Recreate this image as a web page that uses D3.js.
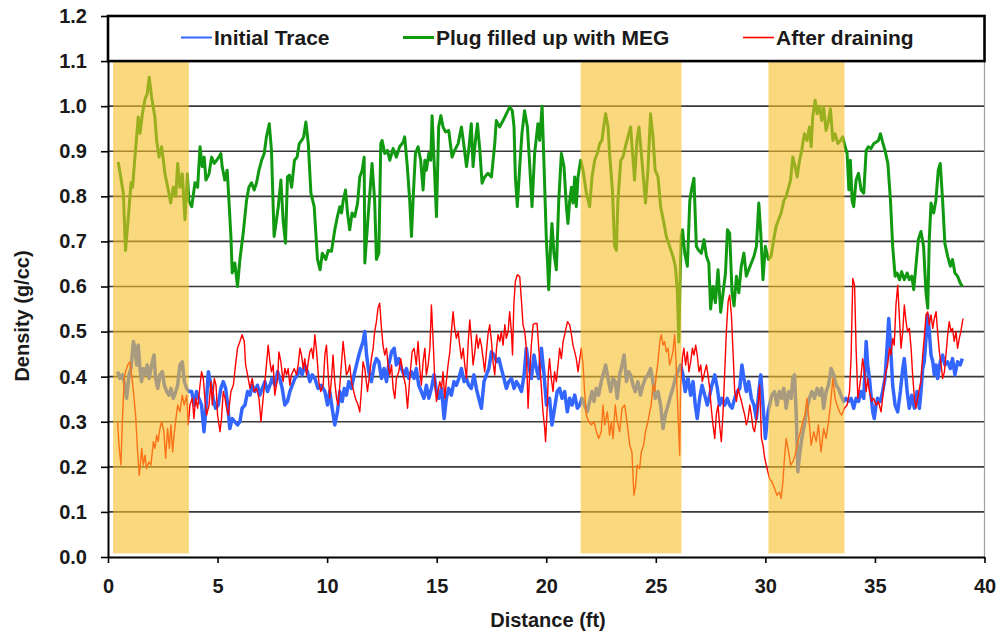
<!DOCTYPE html>
<html>
<head>
<meta charset="utf-8">
<script src="https://cdnjs.cloudflare.com/ajax/libs/d3/7.8.5/d3.min.js"></script>
<style>
  body { margin: 0; background: #fff; }
  text { font-family: Arial, "Liberation Sans", sans-serif; font-weight: bold; fill: #1a1a1a; }
</style>
</head>
<body>
<svg id="chart" width="1000" height="635"></svg>
<script>
// distance (ft), density (g/cc)
const initialTrace = [[0.44,0.411],[0.55,0.396],[0.65,0.404],[0.74,0.389],[0.85,0.352],[0.96,0.404],[1.05,0.418],[1.16,0.478],[1.23,0.463],[1.31,0.426],[1.38,0.47],[1.46,0.418],[1.53,0.389],[1.61,0.418],[1.69,0.404],[1.79,0.426],[1.88,0.396],[1.99,0.426],[2.10,0.448],[2.17,0.396],[2.27,0.374],[2.37,0.404],[2.48,0.411],[2.57,0.381],[2.68,0.367],[2.78,0.359],[2.87,0.374],[2.98,0.352],[3.09,0.367],[3.18,0.381],[3.28,0.426],[3.39,0.433],[3.48,0.389],[3.59,0.374],[3.69,0.367],[3.82,0.367],[3.94,0.337],[4.04,0.367],[4.15,0.352],[4.27,0.337],[4.38,0.278],[4.47,0.33],[4.58,0.411],[4.70,0.381],[4.80,0.352],[4.91,0.33],[5.03,0.337],[5.15,0.374],[5.26,0.389],[5.37,0.374],[5.46,0.337],[5.56,0.285],[5.67,0.307],[5.79,0.30],[5.91,0.293],[6.02,0.30],[6.12,0.33],[6.25,0.337],[6.37,0.367],[6.48,0.359],[6.58,0.381],[6.70,0.367],[6.82,0.381],[6.93,0.359],[7.04,0.374],[7.16,0.389],[7.28,0.367],[7.39,0.381],[7.49,0.396],[7.62,0.381],[7.74,0.411],[7.84,0.396],[7.95,0.374],[8.07,0.337],[8.19,0.345],[8.30,0.367],[8.41,0.381],[8.53,0.396],[8.65,0.404],[8.76,0.418],[8.86,0.404],[8.98,0.426],[9.10,0.411],[9.21,0.389],[9.32,0.404],[9.44,0.396],[9.59,0.374],[9.74,0.381],[9.90,0.367],[10.02,0.337],[10.12,0.367],[10.23,0.33],[10.35,0.293],[10.47,0.322],[10.58,0.367],[10.69,0.345],[10.78,0.374],[10.88,0.359],[10.99,0.389],[11.11,0.374],[11.23,0.404],[11.34,0.426],[11.45,0.448],[11.54,0.463],[11.64,0.478],[11.72,0.50],[11.80,0.448],[11.90,0.411],[12.02,0.389],[12.15,0.426],[12.25,0.44],[12.36,0.433],[12.48,0.396],[12.60,0.418],[12.71,0.389],[12.81,0.426],[12.94,0.455],[13.06,0.463],[13.16,0.426],[13.27,0.44],[13.39,0.418],[13.51,0.404],[13.62,0.418],[13.73,0.396],[13.85,0.411],[13.97,0.396],[14.07,0.418],[14.18,0.381],[14.30,0.367],[14.42,0.352],[14.53,0.381],[14.64,0.352],[14.76,0.374],[14.88,0.404],[14.99,0.367],[15.10,0.352],[15.22,0.374],[15.34,0.307],[15.44,0.352],[15.55,0.374],[15.67,0.359],[15.79,0.389],[15.90,0.381],[16.01,0.396],[16.13,0.418],[16.25,0.389],[16.36,0.396],[16.46,0.381],[16.58,0.374],[16.70,0.404],[16.81,0.374],[16.92,0.352],[17.04,0.33],[17.16,0.389],[17.27,0.404],[17.38,0.418],[17.50,0.455],[17.62,0.448],[17.73,0.433],[17.84,0.44],[17.95,0.418],[18.07,0.396],[18.18,0.374],[18.29,0.389],[18.41,0.396],[18.53,0.374],[18.64,0.389],[18.74,0.381],[18.87,0.367],[18.99,0.404],[19.09,0.463],[19.20,0.426],[19.32,0.396],[19.44,0.448],[19.55,0.418],[19.66,0.396],[19.78,0.463],[19.90,0.404],[20.01,0.337],[20.15,0.352],[20.26,0.293],[20.38,0.33],[20.50,0.367],[20.61,0.374],[20.72,0.352],[20.84,0.367],[20.96,0.322],[21.07,0.352],[21.18,0.337],[21.30,0.359],[21.42,0.33],[21.53,0.337],[21.63,0.352],[21.75,0.337],[21.87,0.322],[21.98,0.345],[22.09,0.367],[22.18,0.345],[22.29,0.374],[22.39,0.359],[22.51,0.389],[22.63,0.411],[22.71,0.426],[22.82,0.396],[22.94,0.367],[23.05,0.396],[23.15,0.389],[23.24,0.352],[23.35,0.404],[23.46,0.426],[23.55,0.448],[23.66,0.389],[23.76,0.411],[23.85,0.404],[23.96,0.381],[24.06,0.367],[24.18,0.389],[24.30,0.359],[24.41,0.381],[24.52,0.396],[24.64,0.404],[24.76,0.418],[24.87,0.389],[24.97,0.352],[25.10,0.367],[25.22,0.337],[25.33,0.285],[25.43,0.315],[25.56,0.337],[25.68,0.359],[25.78,0.374],[25.89,0.396],[26.01,0.411],[26.13,0.426],[26.24,0.404],[26.34,0.367],[26.47,0.396],[26.59,0.359],[26.70,0.389],[26.80,0.337],[26.89,0.307],[27.00,0.352],[27.11,0.381],[27.23,0.359],[27.35,0.337],[27.46,0.359],[27.56,0.381],[27.69,0.404],[27.81,0.374],[27.91,0.337],[28.02,0.352],[28.14,0.337],[28.26,0.352],[28.37,0.337],[28.48,0.33],[28.60,0.352],[28.72,0.367],[28.83,0.374],[28.93,0.426],[29.02,0.396],[29.13,0.367],[29.24,0.389],[29.36,0.352],[29.48,0.337],[29.59,0.307],[29.70,0.367],[29.79,0.404],[29.89,0.337],[30.00,0.263],[30.12,0.322],[30.19,0.337],[30.30,0.359],[30.42,0.367],[30.53,0.337],[30.64,0.367],[30.75,0.352],[30.84,0.374],[30.95,0.33],[31.06,0.367],[31.18,0.352],[31.25,0.396],[31.33,0.404],[31.41,0.315],[31.48,0.189],[31.56,0.226],[31.66,0.263],[31.78,0.293],[31.90,0.33],[32.01,0.352],[32.12,0.367],[32.24,0.352],[32.36,0.374],[32.47,0.359],[32.57,0.374],[32.66,0.33],[32.77,0.367],[32.88,0.381],[33.00,0.418],[33.12,0.404],[33.23,0.381],[33.33,0.374],[33.45,0.359],[33.57,0.345],[33.68,0.352],[33.79,0.345],[33.91,0.352],[34.03,0.33],[34.14,0.352],[34.25,0.345],[34.37,0.367],[34.49,0.352],[34.60,0.478],[34.67,0.426],[34.75,0.396],[34.82,0.359],[34.90,0.322],[34.97,0.307],[35.05,0.337],[35.12,0.352],[35.25,0.345],[35.35,0.367],[35.46,0.396],[35.55,0.463],[35.63,0.529],[35.71,0.47],[35.81,0.381],[35.92,0.337],[36.04,0.322],[36.16,0.367],[36.27,0.418],[36.34,0.44],[36.47,0.367],[36.57,0.33],[36.68,0.359],[36.80,0.33],[36.92,0.367],[37.03,0.33],[37.10,0.367],[37.18,0.418],[37.25,0.433],[37.33,0.485],[37.41,0.537],[37.48,0.50],[37.56,0.448],[37.64,0.433],[37.71,0.404],[37.79,0.426],[37.86,0.396],[37.98,0.433],[38.09,0.448],[38.19,0.426],[38.32,0.433],[38.44,0.418],[38.54,0.44],[38.65,0.404],[38.77,0.433],[38.89,0.426],[38.99,0.44]];

const plugMEG = [[0.47,0.876],[0.70,0.807],[0.80,0.68],[0.93,0.755],[1.05,0.83],[1.12,0.82],[1.23,0.887],[1.38,0.976],[1.46,0.94],[1.57,0.983],[1.69,1.016],[1.79,1.027],[1.88,1.064],[1.99,1.02],[2.14,0.976],[2.22,0.924],[2.33,0.887],[2.45,0.91],[2.60,0.85],[2.75,0.814],[2.86,0.785],[2.98,0.82],[3.09,0.80],[3.18,0.873],[3.28,0.82],[3.39,0.85],[3.51,0.748],[3.62,0.85],[3.69,0.79],[3.82,0.777],[3.97,0.83],[4.09,0.82],[4.20,0.91],[4.30,0.866],[4.39,0.887],[4.47,0.836],[4.61,0.85],[4.73,0.887],[4.85,0.873],[4.96,0.88],[5.06,0.887],[5.15,0.895],[5.21,0.866],[5.33,0.836],[5.44,0.858],[5.52,0.79],[5.61,0.71],[5.67,0.63],[5.79,0.652],[5.91,0.60],[6.02,0.66],[6.17,0.718],[6.32,0.79],[6.43,0.82],[6.55,0.83],[6.67,0.814],[6.78,0.83],[6.89,0.858],[7.01,0.88],[7.13,0.895],[7.23,0.932],[7.36,0.961],[7.46,0.902],[7.58,0.711],[7.69,0.748],[7.77,0.777],[7.89,0.836],[7.99,0.748],[8.10,0.696],[8.19,0.843],[8.28,0.847],[8.38,0.82],[8.51,0.88],[8.63,0.887],[8.73,0.917],[8.84,0.924],[8.93,0.932],[9.03,0.965],[9.14,0.917],[9.26,0.807],[9.41,0.777],[9.56,0.66],[9.68,0.637],[9.78,0.674],[9.94,0.66],[10.05,0.68],[10.2,0.678],[10.35,0.726],[10.47,0.755],[10.58,0.777],[10.66,0.763],[10.73,0.79],[10.84,0.814],[10.93,0.763],[11.03,0.726],[11.14,0.763],[11.26,0.755],[11.39,0.785],[11.49,0.843],[11.60,0.858],[11.69,0.887],[11.72,0.652],[11.87,0.755],[12.05,0.873],[12.17,0.79],[12.25,0.66],[12.36,0.674],[12.45,0.917],[12.51,0.924],[12.63,0.895],[12.75,0.902],[12.86,0.88],[13.01,0.906],[13.16,0.887],[13.31,0.91],[13.47,0.92],[13.54,0.932],[13.66,0.866],[13.77,0.79],[13.85,0.711],[13.92,0.79],[14.03,0.895],[14.15,0.91],[14.27,0.88],[14.38,0.814],[14.46,0.88],[14.53,0.858],[14.64,0.895],[14.73,0.88],[14.79,0.979],[14.88,0.88],[14.99,0.755],[15.09,0.954],[15.19,0.979],[15.29,0.954],[15.40,0.943],[15.55,0.946],[15.70,0.887],[15.82,0.902],[15.98,0.917],[16.13,0.954],[16.25,0.91],[16.36,0.866],[16.46,0.902],[16.58,0.961],[16.66,0.866],[16.77,0.924],[16.86,0.961],[16.97,0.902],[17.07,0.829],[17.19,0.843],[17.34,0.851],[17.50,0.843],[17.65,0.917],[17.72,0.968],[17.87,0.954],[18.03,0.968],[18.18,0.983],[18.33,0.998],[18.45,0.99],[18.53,0.954],[18.59,0.843],[18.68,0.777],[18.79,0.866],[18.89,0.939],[19.01,0.99],[19.14,0.954],[19.24,0.873],[19.35,0.777],[19.47,0.895],[19.62,0.961],[19.70,0.924],[19.81,1.0],[19.90,0.866],[20.00,0.711],[20.08,0.63],[20.11,0.593],[20.20,0.689],[20.26,0.74],[20.35,0.674],[20.46,0.637],[20.57,0.79],[20.69,0.895],[20.81,0.866],[20.92,0.777],[20.99,0.74],[21.07,0.79],[21.15,0.82],[21.22,0.785],[21.30,0.843],[21.37,0.777],[21.45,0.843],[21.57,0.88],[21.68,0.858],[21.83,0.807],[21.98,0.777],[22.09,0.843],[22.21,0.88],[22.33,0.895],[22.44,0.917],[22.54,0.924],[22.64,0.961],[22.71,0.983],[22.82,0.954],[22.89,0.895],[23.02,0.814],[23.12,0.689],[23.20,0.68],[23.27,0.79],[23.40,0.88],[23.50,0.887],[23.61,0.91],[23.73,0.932],[23.85,0.954],[23.93,0.902],[24.03,0.836],[24.14,0.924],[24.23,0.954],[24.34,0.895],[24.44,0.836],[24.53,0.785],[24.64,0.858],[24.76,0.983],[24.87,0.932],[24.97,0.858],[25.10,0.843],[25.22,0.777],[25.34,0.748],[25.48,0.711],[25.63,0.689],[25.78,0.667],[25.89,0.645],[25.98,0.593],[26.05,0.477],[26.10,0.60],[26.16,0.711],[26.22,0.726],[26.32,0.674],[26.44,0.645],[26.55,0.79],[26.65,0.82],[26.74,0.84],[26.85,0.689],[26.96,0.68],[27.08,0.674],[27.20,0.704],[27.31,0.667],[27.42,0.652],[27.50,0.55],[27.61,0.60],[27.72,0.564],[27.84,0.637],[27.96,0.543],[28.07,0.586],[28.18,0.63],[28.27,0.726],[28.37,0.718],[28.48,0.586],[28.57,0.557],[28.68,0.623],[28.79,0.586],[28.90,0.645],[29.02,0.674],[29.13,0.623],[29.24,0.637],[29.36,0.652],[29.48,0.667],[29.59,0.689],[29.70,0.785],[29.79,0.718],[29.89,0.615],[30.00,0.689],[30.04,0.68],[30.14,0.66],[30.26,0.667],[30.38,0.704],[30.49,0.733],[30.60,0.748],[30.72,0.763],[30.84,0.79],[30.95,0.80],[31.06,0.82],[31.15,0.836],[31.25,0.887],[31.36,0.866],[31.45,0.843],[31.56,0.88],[31.66,0.902],[31.78,0.939],[31.90,0.924],[32.01,0.954],[32.09,0.91],[32.16,0.976],[32.27,1.013],[32.36,0.983],[32.47,1.0],[32.57,0.968],[32.66,0.998],[32.77,0.946],[32.88,0.968],[32.97,0.994],[33.08,0.924],[33.18,0.939],[33.31,0.917],[33.43,0.924],[33.53,0.932],[33.64,0.91],[33.73,0.895],[33.81,0.814],[33.88,0.88],[33.96,0.79],[34.03,0.777],[34.14,0.836],[34.25,0.851],[34.37,0.814],[34.49,0.807],[34.60,0.902],[34.70,0.91],[34.82,0.906],[34.95,0.917],[35.05,0.92],[35.16,0.924],[35.25,0.939],[35.35,0.92],[35.46,0.902],[35.59,0.873],[35.71,0.79],[35.81,0.689],[35.92,0.623],[36.01,0.63],[36.12,0.615],[36.22,0.633],[36.34,0.615],[36.47,0.63],[36.57,0.615],[36.68,0.623],[36.77,0.593],[36.87,0.645],[36.98,0.704],[37.10,0.722],[37.22,0.689],[37.33,0.586],[37.41,0.552],[37.48,0.704],[37.56,0.785],[37.68,0.763],[37.78,0.79],[37.89,0.858],[37.98,0.873],[38.09,0.79],[38.19,0.696],[38.32,0.667],[38.44,0.645],[38.54,0.66],[38.65,0.63],[38.77,0.623],[38.89,0.608],[38.99,0.60]];

const afterDraining = [[0.44,0.30],[0.50,0.248],[0.59,0.204],[0.65,0.293],[0.74,0.396],[0.80,0.411],[0.90,0.426],[1.00,0.433],[1.08,0.404],[1.16,0.367],[1.26,0.315],[1.35,0.233],[1.43,0.181],[1.54,0.241],[1.61,0.204],[1.69,0.226],[1.76,0.196],[1.87,0.211],[1.96,0.204],[2.07,0.256],[2.14,0.241],[2.22,0.27],[2.29,0.256],[2.37,0.285],[2.45,0.30],[2.55,0.278],[2.63,0.219],[2.72,0.285],[2.80,0.241],[2.87,0.293],[2.95,0.233],[3.03,0.278],[3.10,0.307],[3.18,0.337],[3.28,0.322],[3.39,0.359],[3.48,0.337],[3.59,0.359],[3.66,0.293],[3.74,0.337],[3.85,0.352],[3.92,0.307],[4.00,0.352],[4.09,0.33],[4.20,0.381],[4.27,0.411],[4.35,0.396],[4.42,0.352],[4.50,0.315],[4.61,0.337],[4.70,0.389],[4.76,0.337],[4.85,0.396],[4.93,0.381],[5.00,0.315],[5.11,0.278],[5.18,0.307],[5.26,0.367],[5.34,0.352],[5.41,0.33],[5.49,0.315],[5.61,0.367],[5.72,0.381],[5.82,0.426],[5.91,0.463],[6.02,0.478],[6.12,0.493],[6.22,0.478],[6.28,0.426],[6.37,0.404],[6.48,0.374],[6.58,0.396],[6.67,0.367],[6.78,0.374],[6.89,0.352],[6.98,0.30],[7.08,0.352],[7.19,0.404],[7.31,0.47],[7.39,0.433],[7.46,0.411],[7.54,0.426],[7.61,0.359],[7.74,0.396],[7.80,0.455],[7.89,0.433],[7.99,0.389],[8.07,0.418],[8.15,0.404],[8.22,0.418],[8.30,0.381],[8.37,0.404],[8.50,0.418],[8.60,0.404],[8.68,0.426],[8.76,0.463],[8.83,0.448],[8.91,0.418],[8.98,0.44],[9.06,0.404],[9.14,0.433],[9.21,0.455],[9.29,0.463],[9.36,0.44],[9.44,0.493],[9.52,0.455],[9.62,0.389],[9.71,0.367],[9.82,0.381],[9.90,0.45],[9.97,0.47],[10.05,0.404],[10.12,0.352],[10.20,0.396],[10.27,0.448],[10.35,0.389],[10.43,0.352],[10.50,0.337],[10.58,0.381],[10.65,0.426],[10.73,0.478],[10.81,0.44],[10.88,0.404],[10.96,0.411],[11.03,0.426],[11.11,0.389],[11.18,0.374],[11.29,0.352],[11.41,0.337],[11.49,0.322],[11.56,0.367],[11.64,0.433],[11.72,0.418],[11.84,0.367],[11.94,0.404],[12.02,0.44],[12.10,0.463],[12.17,0.50],[12.25,0.522],[12.32,0.552],[12.40,0.563],[12.48,0.507],[12.55,0.47],[12.63,0.448],[12.71,0.463],[12.78,0.426],[12.86,0.404],[12.94,0.426],[13.01,0.374],[13.09,0.352],[13.16,0.396],[13.27,0.411],[13.36,0.44],[13.47,0.404],[13.58,0.381],[13.67,0.33],[13.77,0.396],[13.88,0.455],[13.97,0.463],[14.07,0.426],[14.15,0.478],[14.23,0.418],[14.30,0.381],[14.38,0.433],[14.46,0.463],[14.53,0.404],[14.61,0.426],[14.69,0.463],[14.76,0.559],[14.84,0.478],[14.91,0.396],[14.99,0.345],[15.06,0.367],[15.14,0.389],[15.22,0.374],[15.29,0.411],[15.37,0.352],[15.44,0.389],[15.52,0.426],[15.60,0.455],[15.67,0.50],[15.75,0.544],[15.82,0.507],[15.90,0.485],[15.98,0.50],[16.05,0.47],[16.13,0.44],[16.21,0.463],[16.28,0.426],[16.36,0.396],[16.44,0.478],[16.51,0.526],[16.59,0.478],[16.66,0.426],[16.74,0.455],[16.82,0.493],[16.89,0.463],[16.97,0.485],[17.04,0.47],[17.12,0.44],[17.19,0.411],[17.27,0.455],[17.34,0.493],[17.42,0.515],[17.50,0.478],[17.57,0.433],[17.65,0.404],[17.73,0.463],[17.80,0.493],[17.88,0.478],[17.95,0.50],[18.03,0.47],[18.11,0.515],[18.18,0.485],[18.26,0.50],[18.33,0.544],[18.41,0.50],[18.46,0.448],[18.52,0.559],[18.59,0.611],[18.68,0.626],[18.79,0.622],[18.87,0.567],[18.94,0.515],[19.02,0.50],[19.09,0.463],[19.17,0.33],[19.24,0.404],[19.32,0.47],[19.40,0.515],[19.47,0.518],[19.58,0.518],[19.66,0.463],[19.75,0.396],[19.85,0.322],[19.93,0.285],[19.97,0.256],[20.05,0.337],[20.10,0.411],[20.15,0.44],[20.23,0.396],[20.31,0.367],[20.38,0.411],[20.46,0.389],[20.54,0.426],[20.61,0.463],[20.69,0.44],[20.77,0.478],[20.87,0.50],[20.97,0.522],[21.07,0.515],[21.15,0.493],[21.22,0.47],[21.30,0.455],[21.37,0.44],[21.45,0.411],[21.53,0.44],[21.60,0.463],[21.68,0.426],[21.75,0.367],[21.83,0.315],[21.94,0.30],[22.06,0.293],[22.18,0.30],[22.29,0.278],[22.39,0.263],[22.51,0.278],[22.59,0.337],[22.67,0.293],[22.79,0.322],[22.89,0.27],[22.97,0.30],[23.05,0.263],[23.15,0.337],[23.24,0.30],[23.35,0.278],[23.46,0.33],[23.58,0.337],[23.70,0.293],[23.81,0.248],[23.91,0.233],[24.00,0.137],[24.08,0.159],[24.15,0.204],[24.26,0.196],[24.34,0.233],[24.44,0.248],[24.53,0.278],[24.64,0.30],[24.72,0.322],[24.79,0.337],[24.87,0.381],[24.95,0.367],[25.02,0.404],[25.10,0.433],[25.18,0.478],[25.25,0.493],[25.33,0.47],[25.40,0.478],[25.48,0.455],[25.56,0.463],[25.63,0.426],[25.71,0.44],[25.78,0.455],[25.86,0.493],[25.93,0.426],[26.01,0.322],[26.09,0.226],[26.13,0.381],[26.21,0.44],[26.28,0.463],[26.36,0.426],[26.44,0.455],[26.51,0.411],[26.59,0.433],[26.67,0.463],[26.74,0.448],[26.82,0.47],[26.89,0.448],[26.97,0.411],[27.05,0.426],[27.12,0.389],[27.20,0.404],[27.31,0.426],[27.38,0.404],[27.46,0.374],[27.53,0.33],[27.61,0.293],[27.69,0.263],[27.76,0.315],[27.84,0.337],[27.91,0.293],[27.99,0.256],[28.07,0.322],[28.14,0.404],[28.22,0.50],[28.30,0.567],[28.37,0.581],[28.45,0.537],[28.53,0.448],[28.60,0.367],[28.68,0.345],[28.75,0.374],[28.83,0.359],[28.91,0.345],[28.98,0.33],[29.06,0.315],[29.13,0.293],[29.21,0.307],[29.29,0.337],[29.36,0.315],[29.44,0.285],[29.51,0.278],[29.59,0.307],[29.67,0.337],[29.74,0.381],[29.82,0.263],[29.89,0.248],[29.97,0.219],[30.08,0.196],[30.19,0.174],[30.30,0.167],[30.42,0.152],[30.53,0.137],[30.64,0.144],[30.72,0.13],[30.80,0.167],[30.87,0.219],[30.95,0.263],[31.06,0.233],[31.15,0.204],[31.25,0.211],[31.36,0.226],[31.48,0.256],[31.60,0.278],[31.71,0.30],[31.81,0.315],[31.90,0.352],[32.01,0.293],[32.09,0.248],[32.21,0.278],[32.32,0.256],[32.42,0.293],[32.54,0.233],[32.66,0.285],[32.77,0.263],[32.88,0.30],[32.97,0.337],[33.08,0.396],[33.18,0.352],[33.27,0.337],[33.38,0.322],[33.48,0.315],[33.61,0.33],[33.73,0.337],[33.84,0.367],[33.91,0.44],[33.99,0.618],[34.07,0.603],[34.14,0.463],[34.22,0.352],[34.29,0.374],[34.37,0.404],[34.44,0.44],[34.52,0.411],[34.60,0.367],[34.67,0.396],[34.75,0.367],[34.85,0.345],[34.94,0.352],[35.05,0.337],[35.16,0.345],[35.28,0.322],[35.35,0.352],[35.43,0.389],[35.50,0.411],[35.58,0.426],[35.66,0.463],[35.73,0.448],[35.81,0.485],[35.88,0.47],[35.96,0.559],[36.04,0.603],[36.11,0.537],[36.19,0.463],[36.27,0.50],[36.34,0.559],[36.42,0.522],[36.49,0.50],[36.57,0.507],[36.65,0.463],[36.72,0.404],[36.80,0.352],[36.87,0.33],[36.95,0.352],[37.03,0.374],[37.10,0.389],[37.18,0.448],[37.25,0.485],[37.33,0.537],[37.41,0.544],[37.48,0.515],[37.56,0.537],[37.64,0.507],[37.71,0.529],[37.79,0.544],[37.86,0.50],[37.94,0.455],[38.02,0.426],[38.09,0.396],[38.17,0.411],[38.24,0.448],[38.32,0.493],[38.39,0.522],[38.47,0.50],[38.54,0.507],[38.62,0.478],[38.70,0.50],[38.77,0.463],[38.85,0.485],[38.92,0.50],[39.02,0.529]];

// shaded zones, [from, to] in ft
const zones = [[0.23, 3.69], [21.57, 26.17], [30.14, 33.61]];

const xTicks = [0, 5, 10, 15, 20, 25, 30, 35, 40];
const yTicks = [0, 0.1, 0.2, 0.3, 0.4, 0.5, 0.6, 0.7, 0.8, 0.9, 1.0, 1.1, 1.2];
const gridTicks = [0.1, 0.2, 0.3, 0.4, 0.5, 0.6, 0.7, 0.8, 0.9, 1.0];

const series = [
    { name: "Initial Trace", data: initialTrace, color: "#3366ff", width: 3.5, legendWidth: 2, lx: 181 },
    { name: "Plug filled up with MEG", data: plugMEG, color: "#119911", width: 3, legendWidth: 3, lx: 403 },
    { name: "After draining", data: afterDraining, color: "#ff0000", width: 1.4, legendWidth: 1.6, lx: 743 }
];

const svg = d3.select("#chart");
const x = d3.scaleLinear().domain([0, 40]).range([108, 984.5]);
const y = d3.scaleLinear().domain([0, 1.2]).range([557, 16]);

// horizontal grid
svg.append("g").selectAll("line")
    .data(gridTicks)
    .enter().append("line")
    .attr("x1", x(0)).attr("x2", x(40))
    .attr("y1", d => y(d)).attr("y2", d => y(d))
    .attr("stroke", "#3a3a3a")
    .attr("stroke-width", 1.6);

// right border of plot area
svg.append("line")
    .attr("x1", x(40)).attr("x2", x(40))
    .attr("y1", y(1.1)).attr("y2", y(0))
    .attr("stroke", "#a0a0a0").attr("stroke-width", 1.2);

// traces
const line = d3.line().x(d => x(d[0])).y(d => y(d[1]));
series.forEach(s => {
    svg.append("path")
        .datum(s.data)
        .attr("d", line)
        .attr("fill", "none")
        .attr("stroke", s.color)
        .attr("stroke-width", s.width)
        .attr("stroke-linejoin", "round");
});

// shaded zones drawn over the traces
svg.append("g").selectAll("rect")
    .data(zones)
    .enter().append("rect")
    .attr("x", d => x(d[0]))
    .attr("width", d => x(d[1]) - x(d[0]))
    .attr("y", y(1.1) + 1)
    .attr("height", y(0.008) - y(1.1) - 1)
    .attr("fill", "rgb(247,190,40)")
    .attr("fill-opacity", 0.6);

// axes
const yAxis = svg.append("g")
    .attr("transform", `translate(${x(0)},0)`)
    .call(d3.axisLeft(y).tickValues(yTicks).tickFormat(d3.format(".1f")).tickSize(7).tickSizeOuter(0).tickPadding(14));
const xAxis = svg.append("g")
    .attr("transform", `translate(0,${y(0)})`)
    .call(d3.axisBottom(x).tickValues(xTicks).tickFormat(d3.format("d")).tickSize(6).tickSizeOuter(0).tickPadding(16));
[xAxis, yAxis].forEach(g => {
    g.attr("font-size", null).attr("font-family", null);
    g.select(".domain").attr("stroke", "#000").attr("stroke-width", 2);
    g.selectAll(".tick line").attr("stroke", "#000").attr("stroke-width", 1.6);
    g.selectAll(".tick text").style("font-size", "20px").attr("fill", "#1a1a1a");
});

// legend box across the top band
svg.append("rect")
    .attr("x", x(0)).attr("y", y(1.2))
    .attr("width", x(40) - x(0))
    .attr("height", y(1.1) - y(1.2))
    .attr("fill", "#fff")
    .attr("stroke", "#000")
    .attr("stroke-width", 2.6);

const legend = svg.append("g").selectAll("g")
    .data(series)
    .enter().append("g");
legend.append("line")
    .attr("x1", d => d.lx).attr("x2", d => d.lx + 31)
    .attr("y1", 37.5).attr("y2", 37.5)
    .attr("stroke", d => d.color)
    .attr("stroke-width", d => d.legendWidth);
legend.append("text")
    .attr("x", d => d.lx + 33)
    .attr("y", 45)
    .style("font-size", "21px")
    .text(d => d.name);

// axis titles
svg.append("text")
    .attr("x", 548).attr("y", 627)
    .attr("text-anchor", "middle")
    .style("font-size", "20px")
    .text("Distance (ft)");
svg.append("text")
    .attr("transform", "translate(29,316) rotate(-90)")
    .attr("text-anchor", "middle")
    .style("font-size", "20px")
    .text("Density (g/cc)");
</script>
</body>
</html>
